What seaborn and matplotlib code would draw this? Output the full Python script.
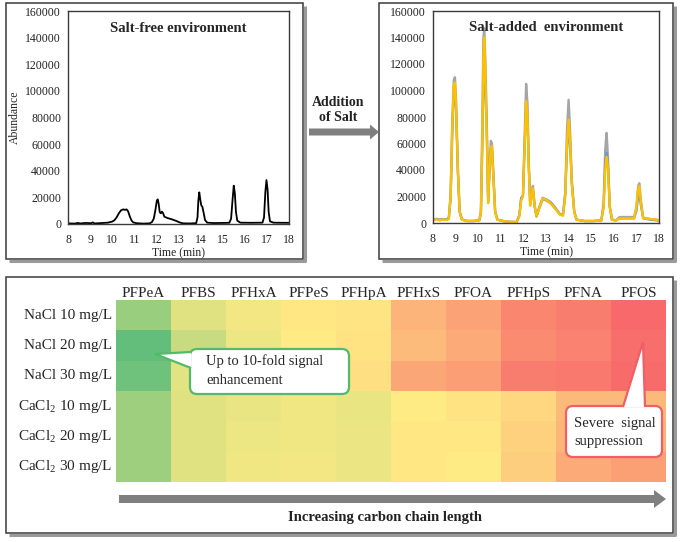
import numpy as np
import pandas as pd
import matplotlib
matplotlib.use("Agg")
import matplotlib.pyplot as plt
import seaborn as sns
from matplotlib.colors import LinearSegmentedColormap
from matplotlib.patches import Rectangle, FancyBboxPatch, Polygon, FancyArrow

####### chromatogram, salt-free
t_free = [8.00, 8.30, 8.45, 8.55, 8.80, 9.05, 9.12, 9.20, 9.50, 9.80, 10.00, 10.10, 10.20, 10.30, 10.40,
          10.50, 10.58, 10.65, 10.72, 10.80, 10.88, 10.95, 11.10, 11.40, 11.70, 11.80, 11.88, 11.95, 12.02,
          12.06, 12.10, 12.15, 12.20, 12.25, 12.30, 12.36, 12.50, 12.70, 12.90, 13.05, 13.20, 13.50, 13.80,
          13.86, 13.90, 13.94, 13.98, 14.03, 14.08, 14.13, 14.20, 14.30, 14.60, 15.00, 15.30, 15.38, 15.44,
          15.50, 15.55, 15.60, 15.66, 15.80, 16.30, 16.80, 16.87, 16.93, 16.98, 17.03, 17.08, 17.14, 17.30,
          17.70, 18.00]
ab_free = [500, 300, 800, 400, 800, 600, 1200, 400, 700, 1000, 1800, 2800, 5000, 8000, 10300,
           11000, 10600, 11000, 9500, 5500, 2500, 1200, 600, 300, 500, 1500, 4000, 10000, 17500,
           18500, 15500, 9000, 8000, 9300, 8200, 5500, 4500, 3500, 2300, 1200, 500, 400, 600,
           5000, 18000, 23800, 19000, 14000, 13000, 9000, 3000, 1000, 700, 800, 900, 4000, 17000,
           28800, 23000, 9000, 2500, 1000, 900, 1000, 5000, 24000, 33000, 26000, 9000, 2000, 1000,
           900, 900]

####### chromatogram, salt-added (three replicates)
t_salt = [8.00, 8.15, 8.30, 8.45, 8.60, 8.70, 8.78, 8.85, 8.92, 8.97, 9.02, 9.10, 9.18, 9.28, 9.50,
          9.80, 10.05, 10.12, 10.18, 10.23, 10.27, 10.32, 10.38, 10.44, 10.50, 10.56, 10.61, 10.67, 10.75,
          10.85, 11.10, 11.40, 11.70, 11.82, 11.90, 11.98, 12.05, 12.12, 12.18, 12.24, 12.30, 12.36, 12.42,
          12.50, 12.58, 12.70, 12.85, 13.00, 13.20, 13.40, 13.60, 13.75, 13.85, 13.93, 14.00, 14.06, 14.14,
          14.25, 14.35, 14.70, 15.10, 15.45, 15.55, 15.62, 15.68, 15.74, 15.82, 15.92, 16.10, 16.25, 16.60,
          16.90, 17.00, 17.08, 17.13, 17.20, 17.30, 17.60, 17.90, 18.00]
ab_yellow = [2000, 2800, 2000, 2800, 2200, 3000, 20000, 70000, 104000, 106000, 90000, 40000, 8000, 2500, 1500,
             1500, 2000, 8000, 60000, 125000, 140000, 110000, 65000, 15000, 40000, 57000, 58000, 35000, 8000,
             2500, 1500, 800, 700, 5000, 17000, 20000, 55000, 92000, 80000, 40000, 13000, 20000, 26000,
             13000, 5000, 11000, 18500, 17500, 15000, 11000, 6500, 5500, 20000, 60000, 78000, 65000, 30000,
             8000, 2500, 1500, 1500, 2000, 12000, 40000, 50000, 42000, 12000, 2500, 2000, 3500, 3500,
             3500, 12000, 26000, 28000, 15000, 3500, 3000, 2500, 1500]
ab_gray = [2500, 3000, 2200, 3000, 2500, 3500, 22000, 75000, 108000, 110000, 92000, 42000, 9000, 2800, 1600,
           1500, 2200, 9000, 75000, 140000, 147000, 120000, 75000, 18000, 42000, 62000, 60000, 38000, 9000,
           2600, 1500, 900, 800, 5500, 18000, 21000, 62000, 105000, 90000, 45000, 14000, 22000, 28000,
           13000, 5000, 12000, 19000, 18000, 16000, 12000, 7000, 6000, 22000, 70000, 93000, 72000, 33000,
           9000, 2500, 1500, 1500, 2000, 15000, 55000, 68000, 50000, 13000, 2500, 2000, 4500, 4500,
           4500, 12000, 28000, 30000, 17000, 4000, 3000, 2500, 1500]
ab_blue = [2000, 3200, 2500, 3000, 2500, 4000, 18000, 65000, 98000, 100000, 85000, 38000, 8000, 2500, 1500,
           1500, 2000, 7000, 55000, 100000, 120000, 100000, 70000, 16000, 38000, 56000, 55000, 36000, 8000,
           2500, 1500, 800, 700, 6000, 19000, 20000, 55000, 90000, 78000, 42000, 15000, 21000, 25000,
           12000, 5000, 11000, 18000, 17000, 15000, 11000, 7000, 6000, 22000, 55000, 70000, 62000, 30000,
           8000, 2500, 1500, 1500, 2000, 13000, 45000, 53000, 44000, 12000, 2500, 2000, 3500, 3500,
           3500, 9000, 20000, 22000, 13000, 3500, 2500, 2000, 1500]

####### heatmap of signal change
compounds = ["PFPeA", "PFBS", "PFHxA", "PFPeS", "PFHpA", "PFHxS", "PFOA", "PFHpS", "PFNA", "PFOS"]
conditions = ["NaCl 10 mg/L", "NaCl 20 mg/L", "NaCl 30 mg/L",
              r"CaCl$_\mathregular{2}$ 10 mg/L", r"CaCl$_\mathregular{2}$ 20 mg/L", r"CaCl$_\mathregular{2}$ 30 mg/L"]
nacl10 = [0.65, 0.20, 0.08, -0.02, -0.05, -0.42, -0.55, -0.78, -0.84, -1.00]
nacl20 = [1.00, 0.35, 0.12, 0.00, -0.06, -0.37, -0.50, -0.74, -0.80, -0.96]
nacl30 = [0.92, 0.18, 0.08, -0.04, -0.08, -0.53, -0.60, -0.84, -0.87, -0.98]
cacl10 = [0.62, 0.20, 0.14, 0.10, 0.14, 0.00, -0.07, -0.15, -0.38, -0.38]
cacl20 = [0.62, 0.20, 0.12, 0.10, 0.13, -0.03, -0.03, -0.20, -0.40, -0.42]
cacl30 = [0.62, 0.20, 0.10, 0.08, 0.13, -0.03, 0.00, -0.22, -0.50, -0.58]


sns.set_style("white")
plt.rcParams['font.family'] = ['Liberation Serif', 'DejaVu Serif']
plt.rcParams['mathtext.fontset'] = 'custom'
plt.rcParams['mathtext.rm'] = 'Liberation Serif'

W, H = 685, 542
fig = plt.figure(figsize=(W / 100, H / 100), dpi=100)


def px_axes(x0, y0, x1, y1):
    return fig.add_axes([x0 / W, 1 - y1 / H, (x1 - x0) / W, (y1 - y0) / H])


def chrom_style(ax):
    ax.set_xlim(8, 18)
    ax.set_ylim(0, 160000)
    ax.set_xticks(range(8, 19))
    ax.set_yticks(range(0, 160001, 20000))
    ax.tick_params(length=0, labelsize=8.5, colors='#222222')
    ax.tick_params(axis='x', pad=7)
    ax.tick_params(axis='y', pad=5)
    for s in ax.spines.values():
        s.set_color('#3a3a3a')
        s.set_linewidth(1.0)
    ax.set_xlabel("Time (min)", fontsize=8.5, labelpad=1)


# left chromatogram
ax1 = px_axes(68, 11, 289, 224)
sns.lineplot(x=t_free, y=ab_free, ax=ax1, color='black', linewidth=1.3, estimator=None)
chrom_style(ax1)
ax1.set_ylabel("Abundance", fontsize=8.5, labelpad=3)
ax1.text(0.5, 0.92, "Salt-free environment", transform=ax1.transAxes, ha='center', va='center',
         fontsize=10.5, fontweight='bold')

# right chromatogram
ax2 = px_axes(433, 11, 659, 223)
sns.lineplot(x=t_salt, y=ab_gray, ax=ax2, color='#a5a5a5', linewidth=1.7, estimator=None)
sns.lineplot(x=t_salt, y=ab_blue, ax=ax2, color='#5b9bd5', linewidth=1.6, estimator=None)
sns.lineplot(x=t_salt, y=ab_yellow, ax=ax2, color='#ffc000', linewidth=1.7, estimator=None)
chrom_style(ax2)
ax2.text(0.5, 0.92, "Salt-added  environment", transform=ax2.transAxes, ha='center', va='center',
         fontsize=10.5, fontweight='bold')

# heatmap
df = pd.DataFrame([nacl10, nacl20, nacl30, cacl10, cacl20, cacl30], index=conditions, columns=compounds)
cmap = LinearSegmentedColormap.from_list("gyr", ['#f8696b', '#ffeb84', '#63be7b'])
ax3 = px_axes(116, 300, 666, 482)
sns.heatmap(df, ax=ax3, cmap=cmap, vmin=-1, vmax=1, cbar=False, linewidths=0)
ax3.xaxis.tick_top()
ax3.tick_params(length=0, labelsize=11)
ax3.tick_params(axis='x', pad=0)
ax3.tick_params(axis='y', pad=3)
plt.setp(ax3.get_xticklabels(), rotation=0)
plt.setp(ax3.get_yticklabels(), rotation=0)
ax3.set_xlabel("")
ax3.set_ylabel("")

# overlay in pixel coordinates
ov = fig.add_axes([0, 0, 1, 1], zorder=10)
ov.set_xlim(0, W)
ov.set_ylim(H, 0)
ov.axis('off')
ov.patch.set_alpha(0)

for (x0, y0, x1, y1) in [(6, 3, 303, 259), (379, 3, 673, 259), (6, 277, 673, 533)]:
    ov.plot([x1 + 2, x1 + 2, x0 + 3], [y0 + 3, y1 + 2, y1 + 2], color='#9a9a9a', linewidth=2.2,
            solid_capstyle='butt')
    ov.add_patch(Rectangle((x0, y0), x1 - x0, y1 - y0, fill=False, edgecolor='#3a3a3a', linewidth=1.1))

# "Addition of Salt" arrow
ov.text(338, 110, "Addition\nof Salt", ha='center', va='center', fontsize=10, fontweight='bold',
        linespacing=1.25, color='#222222')
ov.add_patch(FancyArrow(309, 132, 70, 0, width=7, head_width=15, head_length=9,
                        length_includes_head=True, color='#7f7f7f', linewidth=0))

# chain length arrow
ov.add_patch(FancyArrow(119, 499, 547, 0, width=8, head_width=18, head_length=12,
                        length_includes_head=True, color='#7f7f7f', linewidth=0))
ov.text(385, 517, "Increasing carbon chain length", ha='center', va='center', fontsize=10.5,
        fontweight='bold', color='#222222')

# callouts
green = '#55b96a'
red = '#ee5f66'
ov.add_patch(FancyBboxPatch((190, 349), 159, 45, boxstyle="round,pad=0,rounding_size=7",
                            facecolor='white', edgecolor=green, linewidth=1.6))
ov.add_patch(Polygon([(191, 352), (155, 354), (191, 368)], closed=False, facecolor='white',
                     edgecolor=green, linewidth=1.6))
ov.text(206, 361, "Up to 10-fold signal", ha='left', va='center', fontsize=10.5)
ov.text(206, 381, "enhancement", ha='left', va='center', fontsize=10.5)

ov.add_patch(FancyBboxPatch((566, 406), 96, 51, boxstyle="round,pad=0,rounding_size=7",
                            facecolor='white', edgecolor=red, linewidth=1.6))
ov.add_patch(Polygon([(623, 407), (643, 342), (645, 407)], closed=False, facecolor='white',
                     edgecolor=red, linewidth=1.6))
ov.text(574, 423, "Severe  signal", ha='left', va='center', fontsize=10.5)
ov.text(574, 442, "suppression", ha='left', va='center', fontsize=10.5)

fig.savefig("out.png", dpi=100)
